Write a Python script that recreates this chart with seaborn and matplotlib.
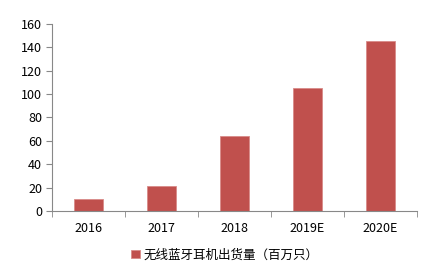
import matplotlib
matplotlib.use("Agg")
import matplotlib.pyplot as plt
import seaborn as sns
import pandas as pd

categories = ["2016", "2017", "2018", "2019E", "2020E"]
values = [10, 21, 64, 105, 145]
series_name = "无线蓝牙耳机出货量（百万只）"

sns.set_style("white")
plt.rcParams['font.family'] = ['Noto Sans CJK SC', 'DejaVu Sans']

df = pd.DataFrame({"year": categories, "value": values, "series": series_name})

fig = plt.figure(figsize=(4.43, 2.66), dpi=100)
ax = fig.add_axes([0.117, 0.207, 0.824, 0.703])
sns.barplot(data=df, x="year", y="value", hue="series", palette=["#C0504D"],
            saturation=1, width=0.4, ax=ax, edgecolor="#D98B89", linewidth=0.6)

ax.set_ylim(0, 160)
ax.set_yticks(range(0, 161, 20))
ax.set_xlim(-0.5, 4.5)
ax.set_xlabel("")
ax.set_ylabel("")
for s in ["top", "right"]:
    ax.spines[s].set_visible(False)
for s in ["left", "bottom"]:
    ax.spines[s].set_color("#888888")
    ax.spines[s].set_linewidth(0.8)
ax.tick_params(axis="y", length=4, color="#888888", labelsize=9, pad=3, left=True,
               labelcolor="#000000")
ax.tick_params(axis="x", which="major", length=0, labelsize=9, pad=8, labelcolor="#000000")
ax.set_xticks([-0.5, 0.5, 1.5, 2.5, 3.5, 4.5], minor=True)
ax.tick_params(axis="x", which="minor", length=4, color="#888888", bottom=True)
for lab in ax.get_xticklabels() + ax.get_yticklabels():
    lab.set_fontweight("medium")

leg = ax.legend(loc="upper center", bbox_to_anchor=(0.475, -0.14), frameon=False,
                fontsize=9, handlelength=0.7, handleheight=0.7, handletextpad=0.3)
for t in leg.get_texts():
    t.set_color("#000000")

fig.savefig("out.png", dpi=100)
